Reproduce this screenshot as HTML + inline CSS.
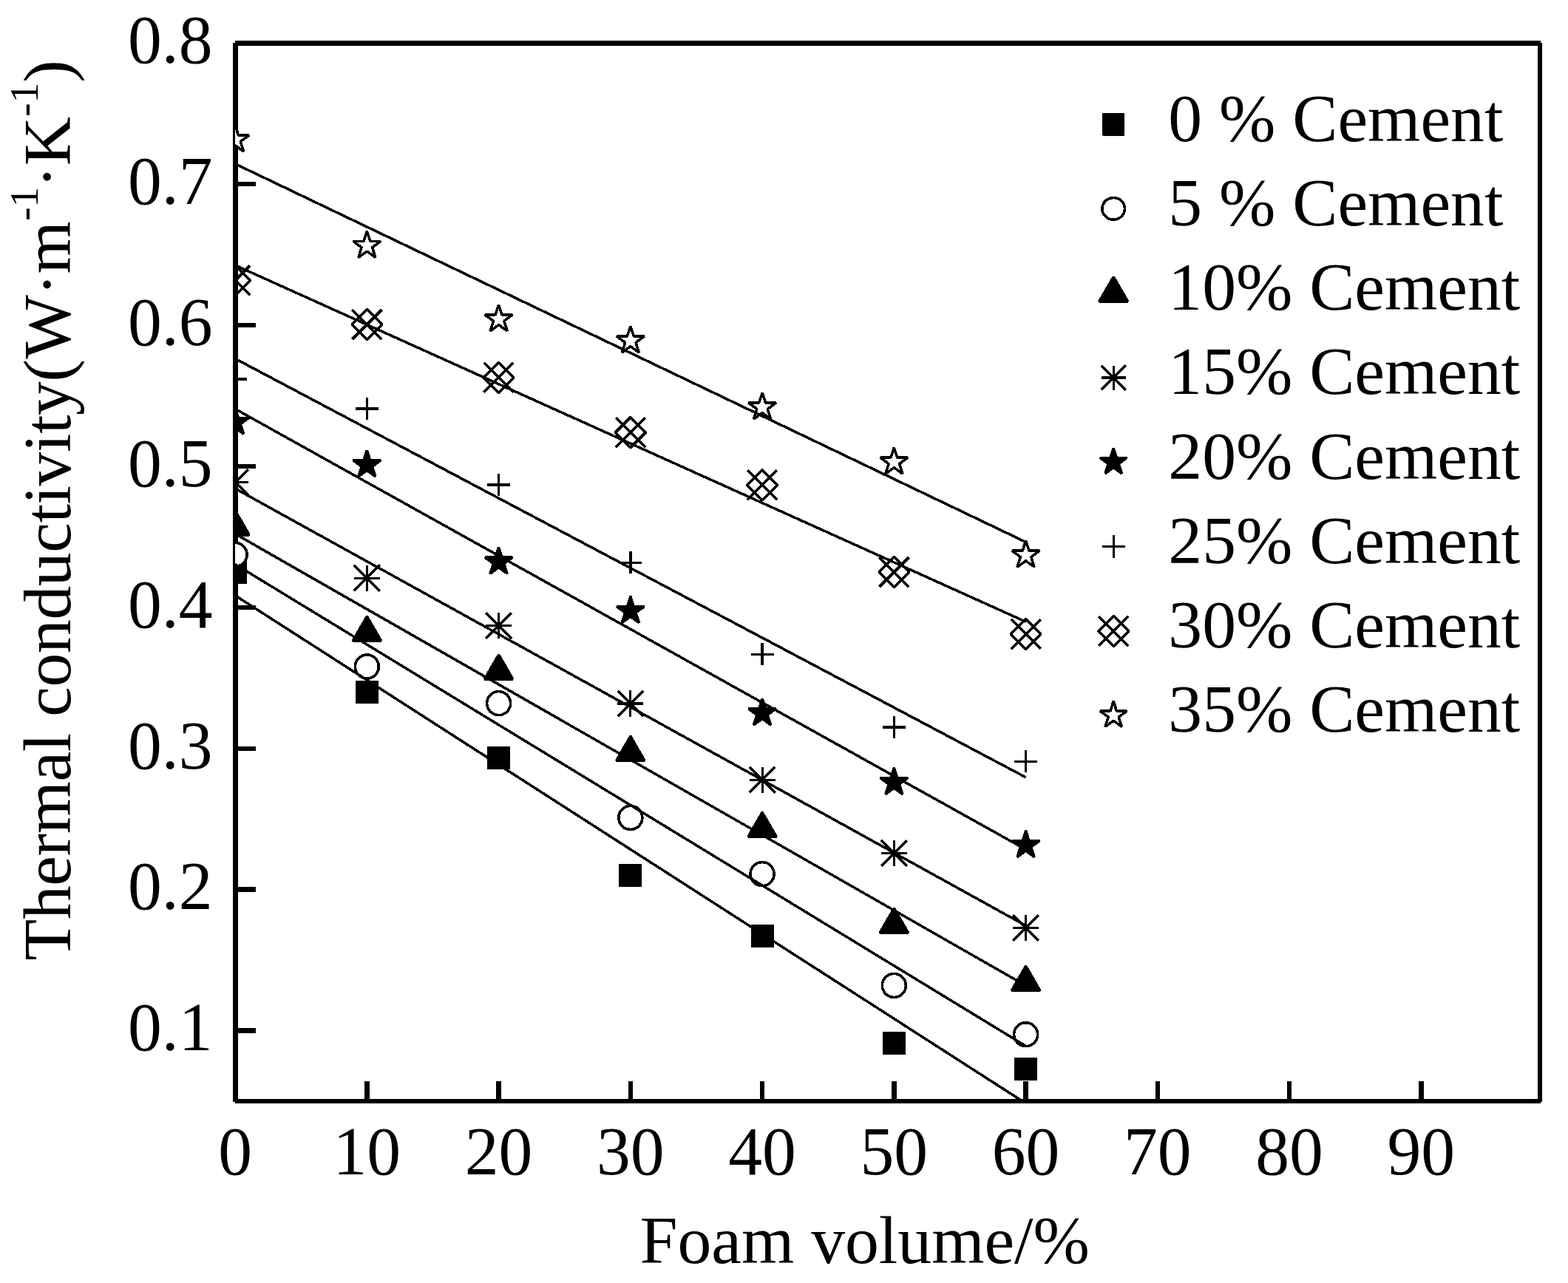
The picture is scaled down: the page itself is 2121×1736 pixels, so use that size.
<!DOCTYPE html>
<html lang="en"><head><meta charset="utf-8"><title>Thermal conductivity vs foam volume</title>
<style>html,body{margin:0;padding:0;background:#fff;}body{width:2121px;height:1736px;overflow:hidden;}svg{display:block;}text{font-family:'Liberation Serif', 'DejaVu Serif', serif;font-size:91.67px;fill:#000;}</style>
</head><body>
<svg width="2121" height="1736" viewBox="0 0 2121 1736" role="img" aria-label="Thermal conductivity versus foam volume for cement contents from 0 to 35 percent">
<rect x="0" y="0" width="2121" height="1736" fill="#fff"/>
<defs><clipPath id="plot"><rect x="318.00" y="58.00" width="1766.00" height="1432.00"/></clipPath></defs>
<g fill="#000" shape-rendering="crispEdges">
<rect x="318.00" y="55.00" width="1766.00" height="6.80"/>
<rect x="318.00" y="1487.10" width="1765.80" height="5.80"/>
<rect x="315.00" y="58.00" width="7.00" height="1432.80"/>
<rect x="2080.00" y="58.00" width="6.00" height="1432.80"/>
<rect x="318.00" y="246.08" width="28.00" height="6.40"/>
<rect x="318.00" y="436.96" width="28.00" height="6.40"/>
<rect x="318.00" y="627.84" width="28.00" height="6.40"/>
<rect x="318.00" y="818.72" width="28.00" height="6.40"/>
<rect x="318.00" y="1009.60" width="28.00" height="6.40"/>
<rect x="318.00" y="1200.48" width="28.00" height="6.40"/>
<rect x="318.00" y="1391.36" width="28.00" height="6.40"/>
<rect x="493.15" y="1463.00" width="6.40" height="27.00"/>
<rect x="671.40" y="1463.00" width="6.40" height="27.00"/>
<rect x="849.65" y="1463.00" width="6.40" height="27.00"/>
<rect x="1027.90" y="1463.00" width="6.40" height="27.00"/>
<rect x="1206.15" y="1463.00" width="6.40" height="27.00"/>
<rect x="1384.40" y="1463.00" width="6.40" height="27.00"/>
<rect x="1562.65" y="1463.00" width="6.40" height="27.00"/>
<rect x="1740.90" y="1463.00" width="6.40" height="27.00"/>
<rect x="1919.15" y="1463.00" width="6.40" height="27.00"/>
</g>
<g clip-path="url(#plot)" shape-rendering="crispEdges">
<rect x="302.55" y="758.80" width="31.10" height="31.10" rx="0.8" fill="#000"/>
<rect x="480.80" y="920.95" width="31.10" height="31.10" rx="0.8" fill="#000"/>
<rect x="659.05" y="1009.85" width="31.10" height="31.10" rx="0.8" fill="#000"/>
<rect x="837.30" y="1168.95" width="31.10" height="31.10" rx="0.8" fill="#000"/>
<rect x="1015.55" y="1250.95" width="31.10" height="31.10" rx="0.8" fill="#000"/>
<rect x="1193.80" y="1395.85" width="31.10" height="31.10" rx="0.8" fill="#000"/>
<rect x="1372.05" y="1430.85" width="31.10" height="31.10" rx="0.8" fill="#000"/>
<circle cx="318.10" cy="750.40" r="16.00" fill="#fff" stroke="#000" stroke-width="3.6"/>
<circle cx="496.35" cy="902.00" r="16.00" fill="#fff" stroke="#000" stroke-width="3.6"/>
<circle cx="674.60" cy="951.60" r="16.00" fill="#fff" stroke="#000" stroke-width="3.6"/>
<circle cx="852.85" cy="1106.40" r="16.00" fill="#fff" stroke="#000" stroke-width="3.6"/>
<circle cx="1031.10" cy="1182.60" r="16.00" fill="#fff" stroke="#000" stroke-width="3.6"/>
<circle cx="1209.35" cy="1333.45" r="16.00" fill="#fff" stroke="#000" stroke-width="3.6"/>
<circle cx="1387.60" cy="1399.70" r="16.00" fill="#fff" stroke="#000" stroke-width="3.6"/>
<polygon points="318.10,690.70 337.24,723.85 298.96,723.85" fill="#000" stroke="#000" stroke-width="3.5" stroke-linejoin="bevel"/>
<polygon points="496.35,833.90 515.49,867.05 477.21,867.05" fill="#000" stroke="#000" stroke-width="3.5" stroke-linejoin="bevel"/>
<polygon points="674.60,885.80 693.74,918.95 655.46,918.95" fill="#000" stroke="#000" stroke-width="3.5" stroke-linejoin="bevel"/>
<polygon points="852.85,996.10 871.99,1029.25 833.71,1029.25" fill="#000" stroke="#000" stroke-width="3.5" stroke-linejoin="bevel"/>
<polygon points="1031.10,1099.10 1050.24,1132.25 1011.96,1132.25" fill="#000" stroke="#000" stroke-width="3.5" stroke-linejoin="bevel"/>
<polygon points="1209.35,1228.90 1228.49,1262.05 1190.21,1262.05" fill="#000" stroke="#000" stroke-width="3.5" stroke-linejoin="bevel"/>
<polygon points="1387.60,1307.00 1406.74,1340.15 1368.46,1340.15" fill="#000" stroke="#000" stroke-width="3.5" stroke-linejoin="bevel"/>
<g fill="none" stroke="#000"><path d="M318.10 634.95V670.05M300.55 652.50H335.65" stroke-width="3.2"/><path d="M300.70 635.10L335.50 669.90M300.70 669.90L335.50 635.10" stroke-width="3.5"/></g>
<g fill="none" stroke="#000"><path d="M496.35 764.55V799.65M478.80 782.10H513.90" stroke-width="3.2"/><path d="M478.95 764.70L513.75 799.50M478.95 799.50L513.75 764.70" stroke-width="3.5"/></g>
<g fill="none" stroke="#000"><path d="M674.60 829.20V864.30M657.05 846.75H692.15" stroke-width="3.2"/><path d="M657.20 829.35L692.00 864.15M657.20 864.15L692.00 829.35" stroke-width="3.5"/></g>
<g fill="none" stroke="#000"><path d="M852.85 934.45V969.55M835.30 952.00H870.40" stroke-width="3.2"/><path d="M835.45 934.60L870.25 969.40M835.45 969.40L870.25 934.60" stroke-width="3.5"/></g>
<g fill="none" stroke="#000"><path d="M1031.10 1037.65V1072.75M1013.55 1055.20H1048.65" stroke-width="3.2"/><path d="M1013.70 1037.80L1048.50 1072.60M1013.70 1072.60L1048.50 1037.80" stroke-width="3.5"/></g>
<g fill="none" stroke="#000"><path d="M1209.35 1136.85V1171.95M1191.80 1154.40H1226.90" stroke-width="3.2"/><path d="M1191.95 1137.00L1226.75 1171.80M1191.95 1171.80L1226.75 1137.00" stroke-width="3.5"/></g>
<g fill="none" stroke="#000"><path d="M1387.60 1237.95V1273.05M1370.05 1255.50H1405.15" stroke-width="3.2"/><path d="M1370.20 1238.10L1405.00 1272.90M1370.20 1272.90L1405.00 1238.10" stroke-width="3.5"/></g>
<polygon points="318.10,551.70 322.52,565.31 336.84,565.31 325.26,573.73 329.68,587.34 318.10,578.93 306.52,587.34 310.94,573.73 299.36,565.31 313.68,565.31" fill="#000" stroke="#000" stroke-width="3.50" stroke-linejoin="bevel"/>
<polygon points="496.35,609.30 500.77,622.91 515.09,622.91 503.51,631.33 507.93,644.94 496.35,636.53 484.77,644.94 489.19,631.33 477.61,622.91 491.93,622.91" fill="#000" stroke="#000" stroke-width="3.50" stroke-linejoin="bevel"/>
<polygon points="674.60,740.60 679.02,754.21 693.34,754.21 681.76,762.63 686.18,776.24 674.60,767.83 663.02,776.24 667.44,762.63 655.86,754.21 670.18,754.21" fill="#000" stroke="#000" stroke-width="3.50" stroke-linejoin="bevel"/>
<polygon points="852.85,807.00 857.27,820.61 871.59,820.61 860.01,829.03 864.43,842.64 852.85,834.23 841.27,842.64 845.69,829.03 834.11,820.61 848.43,820.61" fill="#000" stroke="#000" stroke-width="3.50" stroke-linejoin="bevel"/>
<polygon points="1031.10,945.30 1035.52,958.91 1049.84,958.91 1038.26,967.33 1042.68,980.94 1031.10,972.53 1019.52,980.94 1023.94,967.33 1012.36,958.91 1026.68,958.91" fill="#000" stroke="#000" stroke-width="3.50" stroke-linejoin="bevel"/>
<polygon points="1209.35,1039.00 1213.77,1052.61 1228.09,1052.61 1216.51,1061.03 1220.93,1074.64 1209.35,1066.23 1197.77,1074.64 1202.19,1061.03 1190.61,1052.61 1204.93,1052.61" fill="#000" stroke="#000" stroke-width="3.50" stroke-linejoin="bevel"/>
<polygon points="1387.60,1124.00 1392.02,1137.61 1406.34,1137.61 1394.76,1146.03 1399.18,1159.64 1387.60,1151.23 1376.02,1159.64 1380.44,1146.03 1368.86,1137.61 1383.18,1137.61" fill="#000" stroke="#000" stroke-width="3.50" stroke-linejoin="bevel"/>
<path d="M318.10 498.00V528.00M302.55 513.00H333.65" fill="none" stroke="#000" stroke-width="3.4"/>
<path d="M496.35 537.90V567.90M480.80 552.90H511.90" fill="none" stroke="#000" stroke-width="3.4"/>
<path d="M674.60 640.90V670.90M659.05 655.90H690.15" fill="none" stroke="#000" stroke-width="3.4"/>
<path d="M852.85 746.40V776.40M837.30 761.40H868.40" fill="none" stroke="#000" stroke-width="3.4"/>
<path d="M1031.10 870.45V900.45M1015.55 885.45H1046.65" fill="none" stroke="#000" stroke-width="3.4"/>
<path d="M1209.35 969.00V999.00M1193.80 984.00H1224.90" fill="none" stroke="#000" stroke-width="3.4"/>
<path d="M1387.60 1015.30V1045.30M1372.05 1030.30H1403.15" fill="none" stroke="#000" stroke-width="3.4"/>
<path d="M318.10 358.90L338.60 379.40L318.10 399.90L297.60 379.40ZM298.10 359.40L338.10 399.40M298.10 399.40L338.10 359.40" fill="none" stroke="#000" stroke-width="3.6" stroke-linejoin="bevel"/>
<path d="M496.35 418.70L516.85 439.20L496.35 459.70L475.85 439.20ZM476.35 419.20L516.35 459.20M476.35 459.20L516.35 419.20" fill="none" stroke="#000" stroke-width="3.6" stroke-linejoin="bevel"/>
<path d="M674.60 490.30L695.10 510.80L674.60 531.30L654.10 510.80ZM654.60 490.80L694.60 530.80M654.60 530.80L694.60 490.80" fill="none" stroke="#000" stroke-width="3.6" stroke-linejoin="bevel"/>
<path d="M852.85 564.70L873.35 585.20L852.85 605.70L832.35 585.20ZM832.85 565.20L872.85 605.20M832.85 605.20L872.85 565.20" fill="none" stroke="#000" stroke-width="3.6" stroke-linejoin="bevel"/>
<path d="M1031.10 635.70L1051.60 656.20L1031.10 676.70L1010.60 656.20ZM1011.10 636.20L1051.10 676.20M1011.10 676.20L1051.10 636.20" fill="none" stroke="#000" stroke-width="3.6" stroke-linejoin="bevel"/>
<path d="M1209.35 753.70L1229.85 774.20L1209.35 794.70L1188.85 774.20ZM1189.35 754.20L1229.35 794.20M1189.35 794.20L1229.35 754.20" fill="none" stroke="#000" stroke-width="3.6" stroke-linejoin="bevel"/>
<path d="M1387.60 837.50L1408.10 858.00L1387.60 878.50L1367.10 858.00ZM1367.60 838.00L1407.60 878.00M1367.60 878.00L1407.60 838.00" fill="none" stroke="#000" stroke-width="3.6" stroke-linejoin="bevel"/>
<polygon points="318.10,169.50 322.52,183.11 336.84,183.11 325.26,191.53 329.68,205.14 318.10,196.73 306.52,205.14 310.94,191.53 299.36,183.11 313.68,183.11" fill="#fff" stroke="#000" stroke-width="3.50" stroke-linejoin="bevel"/>
<polygon points="496.35,312.80 500.77,326.41 515.09,326.41 503.51,334.83 507.93,348.44 496.35,340.03 484.77,348.44 489.19,334.83 477.61,326.41 491.93,326.41" fill="#fff" stroke="#000" stroke-width="3.50" stroke-linejoin="bevel"/>
<polygon points="674.60,412.30 679.02,425.91 693.34,425.91 681.76,434.33 686.18,447.94 674.60,439.53 663.02,447.94 667.44,434.33 655.86,425.91 670.18,425.91" fill="#fff" stroke="#000" stroke-width="3.50" stroke-linejoin="bevel"/>
<polygon points="852.85,441.40 857.27,455.01 871.59,455.01 860.01,463.43 864.43,477.04 852.85,468.63 841.27,477.04 845.69,463.43 834.11,455.01 848.43,455.01" fill="#fff" stroke="#000" stroke-width="3.50" stroke-linejoin="bevel"/>
<polygon points="1031.10,531.40 1035.52,545.01 1049.84,545.01 1038.26,553.43 1042.68,567.04 1031.10,558.63 1019.52,567.04 1023.94,553.43 1012.36,545.01 1026.68,545.01" fill="#fff" stroke="#000" stroke-width="3.50" stroke-linejoin="bevel"/>
<polygon points="1209.35,605.50 1213.77,619.11 1228.09,619.11 1216.51,627.53 1220.93,641.14 1209.35,632.73 1197.77,641.14 1202.19,627.53 1190.61,619.11 1204.93,619.11" fill="#fff" stroke="#000" stroke-width="3.50" stroke-linejoin="bevel"/>
<polygon points="1387.60,731.60 1392.02,745.21 1406.34,745.21 1394.76,753.63 1399.18,767.24 1387.60,758.83 1376.02,767.24 1380.44,753.63 1368.86,745.21 1383.18,745.21" fill="#fff" stroke="#000" stroke-width="3.50" stroke-linejoin="bevel"/>
</g>
<g clip-path="url(#plot)" stroke="#000" stroke-width="3.50" fill="none" shape-rendering="crispEdges">
<line x1="318.10" y1="805.70" x2="1387.60" y2="1492.90"/>
<line x1="318.10" y1="763.50" x2="1387.60" y2="1415.40"/>
<line x1="318.10" y1="722.40" x2="1387.60" y2="1333.60"/>
<line x1="318.10" y1="661.00" x2="1387.60" y2="1252.50"/>
<line x1="318.10" y1="553.30" x2="1387.60" y2="1149.40"/>
<line x1="318.10" y1="485.30" x2="1387.60" y2="1051.80"/>
<line x1="318.10" y1="358.90" x2="1387.60" y2="841.30"/>
<line x1="318.10" y1="221.70" x2="1387.60" y2="733.50"/>
</g>
<g text-anchor="middle">
<text transform="translate(318.10,1588.70) scale(1,1.023)">0</text>
<text transform="translate(496.35,1588.70) scale(1,1.023)">10</text>
<text transform="translate(674.60,1588.70) scale(1,1.023)">20</text>
<text transform="translate(852.85,1588.70) scale(1,1.023)">30</text>
<text transform="translate(1031.10,1588.70) scale(1,1.023)">40</text>
<text transform="translate(1209.35,1588.70) scale(1,1.023)">50</text>
<text transform="translate(1387.60,1588.70) scale(1,1.023)">60</text>
<text transform="translate(1565.85,1588.70) scale(1,1.023)">70</text>
<text transform="translate(1744.10,1588.70) scale(1,1.023)">80</text>
<text transform="translate(1922.35,1588.70) scale(1,1.023)">90</text>
</g>
<g text-anchor="end">
<text transform="translate(287.60,85.10) scale(1,1.023)">0.8</text>
<text transform="translate(287.60,275.98) scale(1,1.023)">0.7</text>
<text transform="translate(287.60,466.86) scale(1,1.023)">0.6</text>
<text transform="translate(287.60,657.74) scale(1,1.023)">0.5</text>
<text transform="translate(287.60,848.62) scale(1,1.023)">0.4</text>
<text transform="translate(287.60,1039.50) scale(1,1.023)">0.3</text>
<text transform="translate(287.60,1230.38) scale(1,1.023)">0.2</text>
<text transform="translate(287.60,1421.26) scale(1,1.023)">0.1</text>
</g>
<text x="865.50" y="1708.80">Foam volume/%</text>
<text transform="translate(94.7,0) rotate(-90)"><tspan x="-1299.66" y="0" style="letter-spacing:-0.42px">Thermal conductivity(</tspan><tspan x="-485.51" y="0">W</tspan><tspan x="-400.26" y="-1">·</tspan><tspan x="-370.50" y="0">m</tspan><tspan x="-298.8" y="-44" style="font-size:55px">-1</tspan><tspan x="-254.46" y="-1">·</tspan><tspan x="-224.25" y="0">K</tspan><tspan x="-157.7" y="-44" style="font-size:55px">-1</tspan><tspan x="-111.83" y="0">)</tspan></text>
<g shape-rendering="crispEdges"><rect x="1491.10" y="153.35" width="30.20" height="30.20" rx="0.8" fill="#000"/></g>
<text x="1580.30" y="190.70">0 % Cement</text>
<g shape-rendering="crispEdges"><ellipse cx="1506.20" cy="282.36" rx="15.25" ry="14.8" fill="#fff" stroke="#000" stroke-width="3.6"/></g>
<text x="1580.30" y="304.91">5 % Cement</text>
<g shape-rendering="crispEdges"><polygon points="1506.20,374.47 1525.60,408.07 1486.80,408.07" fill="#000" stroke="#000" stroke-width="3.5" stroke-linejoin="bevel"/></g>
<text x="1580.30" y="419.12">10% Cement</text>
<g shape-rendering="crispEdges"><g fill="none" stroke="#000"><path d="M1506.20 494.53V527.63M1489.65 511.08H1522.75" stroke-width="3.2"/><path d="M1489.70 494.58L1522.70 527.58M1489.70 527.58L1522.70 494.58" stroke-width="3.5"/></g></g>
<text x="1580.30" y="533.33">15% Cement</text>
<g shape-rendering="crispEdges"><polygon points="1506.20,606.19 1510.49,619.38 1524.37,619.39 1513.14,627.55 1517.43,640.74 1506.20,632.59 1494.97,640.74 1499.26,627.55 1488.03,619.39 1501.91,619.38" fill="#000" stroke="#000" stroke-width="3.50" stroke-linejoin="bevel"/></g>
<text x="1580.30" y="647.54">20% Cement</text>
<g shape-rendering="crispEdges"><path d="M1506.20 724.40V754.60M1490.55 739.50H1521.85" fill="none" stroke="#000" stroke-width="3.4"/></g>
<text x="1580.30" y="761.75">25% Cement</text>
<g shape-rendering="crispEdges"><path d="M1506.20 833.51L1526.70 854.01L1506.20 874.51L1485.70 854.01ZM1486.20 834.01L1526.20 874.01M1486.20 874.01L1526.20 834.01" fill="none" stroke="#000" stroke-width="3.6" stroke-linejoin="bevel"/></g>
<text x="1580.30" y="875.96">30% Cement</text>
<g shape-rendering="crispEdges"><polygon points="1506.20,948.82 1510.49,962.01 1524.37,962.02 1513.14,970.18 1517.43,983.37 1506.20,975.22 1494.97,983.37 1499.26,970.18 1488.03,962.02 1501.91,962.01" fill="#fff" stroke="#000" stroke-width="3.50" stroke-linejoin="bevel"/></g>
<text x="1580.30" y="990.17">35% Cement</text>
</svg>
</body></html>
